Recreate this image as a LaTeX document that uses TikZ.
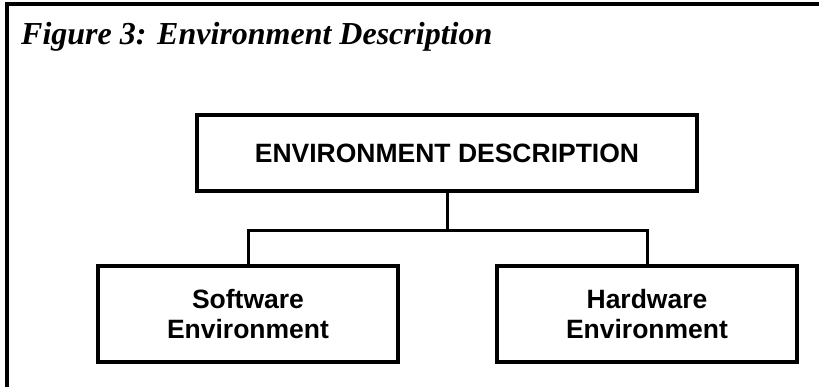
\documentclass[tikz,border=0pt]{standalone}
\usepackage{fontspec}
\setmainfont{Liberation Serif}
\setsansfont{Liberation Sans}
\begin{document}
\begin{tikzpicture}[x=1pt,y=-1pt,
  box/.style={draw, line width=3.5pt, inner sep=0pt, align=center,
    font=\sffamily\bfseries\fontsize{26.5}{30}\selectfont},
  conn/.style={line width=3pt},
  frame/.style={line width=4pt}]
\useasboundingbox (0,0) rectangle (819,387);
\coordinate (ftl) at (7,4);
\coordinate (ftr) at (821,4);
\coordinate (fbl) at (7,389);
\draw[frame] (ftr) -- (ftl) -- (fbl);
\node[anchor=base west, inner sep=0pt, font=\bfseries\itshape\fontsize{32}{36}\selectfont] (title) at (21,45) {Figure 3: Environment Description};
\node[box, minimum width=500pt, minimum height=76pt] (top) at (447,153) {ENVIRONMENT DESCRIPTION};
\node[box, minimum width=300pt, minimum height=96pt] (sw) at (248,314) {Software\\Environment};
\node[box, minimum width=300pt, minimum height=96pt] (hw) at (647,314) {Hardware\\Environment};
\draw[conn] (top.south) -- ++(0,38) coordinate (j);
\draw[conn] (j) -| (sw.north);
\draw[conn] (j) -| (hw.north);
\end{tikzpicture}
\end{document}
